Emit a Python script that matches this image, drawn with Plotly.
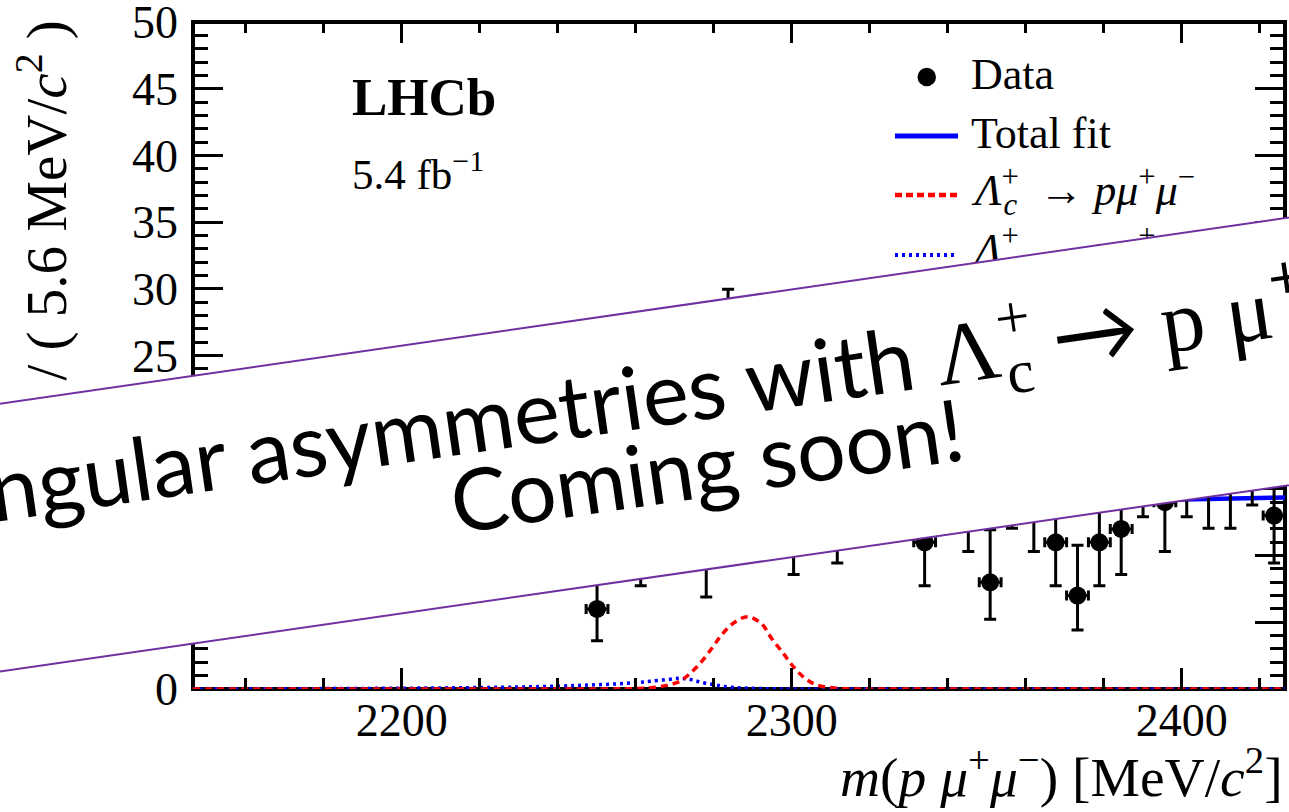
import math
import plotly.graph_objects as go

# ---------------- data ----------------
BIN_LOW = 2146.46          # MeV/c^2, lower edge of the histogram
BIN_WIDTH = 5.6            # MeV/c^2
counts = [14, 12, 16, 13, 15, 11, 14, 17, 13, 12,
          15, 14, 11, 16, 13, 17, 12, 15, 6, 14,
          11, 15, 16, 10, 24, 21, 18, 12, 16, 13,
          17, 16, 18, 11, 17, 14, 8, 16, 14, 11,
          7, 11, 12, 17, 14, 17, 16, 16, 18, 13]

# fit curves, read at a set of masses
fit_mass = [2146.46, 2180.0, 2210.0, 2230.0, 2240.6, 2248.2, 2255.1, 2260.2,
            2263.6, 2267.9, 2271.3, 2273.9, 2276.5, 2279.5, 2282.0, 2285.0,
            2288.7, 2292.3, 2294.8, 2297.8, 2300.4, 2303.4, 2306.4, 2312.0,
            2320.0, 2340.0, 2380.0, 2426.46]
signal_pmumu = [0.0, 0.0, 0.0, 0.0, 0.0, 0.0, 0.01, 0.03,
                0.08, 0.27, 0.58, 1.16, 1.93, 3.05, 4.05, 4.93,
                5.42, 4.87, 3.80, 2.68, 1.67, 0.80, 0.30, 0.05,
                0.0, 0.0, 0.0, 0.0]
misid_ppipi = [0.0, 0.03, 0.08, 0.15, 0.22, 0.30, 0.38, 0.48,
               0.58, 0.70, 0.80, 0.72, 0.52, 0.35, 0.22, 0.12,
               0.06, 0.03, 0.02, 0.01, 0.0, 0.0, 0.0, 0.0,
               0.0, 0.0, 0.0, 0.0]
background = [13.30, 13.42, 13.52, 13.58, 13.62, 13.64, 13.66, 13.68,
              13.69, 13.70, 13.71, 13.72, 13.73, 13.74, 13.75, 13.76,
              13.77, 13.78, 13.79, 13.80, 13.81, 13.82, 13.83, 13.85,
              13.88, 13.95, 14.10, 14.36]

x_ticks = [2200, 2300, 2400]
y_ticks = [0, 5, 10, 15, 20, 25, 30, 35, 40, 45, 50]

# ---------------- derived tables ----------------
n_bins = len(counts)
bin_centers = [BIN_LOW + BIN_WIDTH * (i + 0.5) for i in range(n_bins)]
total_fit = [b + s + m for b, s, m in zip(background, signal_pmumu, misid_ppipi)]


def poisson_interval(n, cl=0.682689):
    """Central Poisson confidence interval (as used for RooFit data points)."""
    alpha = (1.0 - cl) / 2.0

    def cdf(k, mu):
        if k < 0:
            return 0.0
        if mu <= 0:
            return 1.0
        return sum(math.exp(-mu + j * math.log(mu) - math.lgamma(j + 1)) for j in range(k + 1))

    def solve(f, lo, hi):
        for _ in range(80):
            mid = 0.5 * (lo + hi)
            if f(mid) > 0:
                lo = mid
            else:
                hi = mid
        return 0.5 * (lo + hi)

    up = solve(lambda mu: cdf(n, mu) - alpha, 0.0, n + 60.0)
    low = 0.0 if n == 0 else solve(lambda mu: cdf(n - 1, mu) - (1 - alpha), 0.0, n + 60.0)
    return low, up


err_lo, err_hi = [], []
for n in counts:
    lo, up = poisson_interval(n)
    err_lo.append(n - lo)
    err_hi.append(up - n)

# ---------------- geometry helpers (layout only) ----------------
W_FIG, H_FIG = 1289, 812
L, R, T, B = 193, 1285, 22, 689
PW, PH = R - L, B - T


def px(x):
    return (x - L) / PW


def py(y):
    return (B - y) / PH


SERIF = "Liberation Serif"
BLUE = "#0000FF"
RED = "#FF0000"
PURPLE = "#7030A0"

fig = go.Figure()

fig.add_trace(go.Scatter(x=fit_mass, y=total_fit, mode="lines", name="Total fit",
                         line=dict(color=BLUE, width=4.5, shape="spline"), hoverinfo="skip"))
fig.add_trace(go.Scatter(x=fit_mass, y=misid_ppipi, mode="lines", name="misID",
                         line=dict(color=BLUE, width=3.5, dash="3px,4px", shape="spline"), hoverinfo="skip"))
fig.add_trace(go.Scatter(x=fit_mass, y=signal_pmumu, mode="lines", name="signal",
                         line=dict(color=RED, width=3.5, dash="7px,5px", shape="spline"), hoverinfo="skip"))
fig.add_trace(go.Scatter(
    x=bin_centers, y=counts, mode="markers", name="Data",
    marker=dict(size=18, color="black"),
    error_y=dict(type="data", symmetric=False, array=err_hi, arrayminus=err_lo,
                 thickness=3, width=6, color="black"),
    error_x=dict(type="constant", value=BIN_WIDTH / 2, thickness=3, width=5, color="black"),
))

tickstyle = dict(ticks="inside", tickwidth=3, tickcolor="black", showgrid=False,
                 zeroline=False, showline=False, mirror="ticks", automargin=False,
                 ticklabelposition="outside", ticklabeloverflow="allow")

fig.update_layout(
    width=W_FIG, height=H_FIG,
    margin=dict(l=L, r=W_FIG - R, t=T, b=H_FIG - B, pad=0, autoexpand=False),
    paper_bgcolor="white", plot_bgcolor="white",
    showlegend=False,
    font=dict(family=SERIF, color="black"),
    xaxis=dict(range=[BIN_LOW, BIN_LOW + n_bins * BIN_WIDTH], tickmode="array",
               tickvals=x_ticks, ticktext=[str(v) for v in x_ticks], ticklen=21,
               tickfont=dict(family=SERIF, size=46, color="black"),
               minor=dict(ticks="inside", dtick=20, tick0=2200, ticklen=11, tickwidth=3,
                          tickcolor="black", showgrid=False),
               **tickstyle),
    yaxis=dict(range=[0, 50.002], tickmode="array", tickvals=y_ticks,
               ticktext=[str(v) for v in y_ticks], ticklen=30, ticklabelstandoff=14,
               tickfont=dict(family=SERIF, size=46, color="black"),
               minor=dict(ticks="inside", dtick=1, tick0=0, ticklen=15, tickwidth=3,
                          tickcolor="black", showgrid=False),
               **tickstyle),
)

shapes = [
    # frame
    dict(type="rect", xref="paper", yref="paper", x0=0, x1=1, y0=0, y1=1,
         line=dict(color="black", width=4), fillcolor="rgba(0,0,0,0)", layer="below"),
    # legend symbols
    dict(type="circle", xref="paper", yref="paper", x0=px(917.5), x1=px(936.0),
         y0=py(86.3), y1=py(67.8), fillcolor="black", line=dict(width=0)),
    dict(type="line", xref="paper", yref="paper", x0=px(895), x1=px(958), y0=py(136), y1=py(136),
         line=dict(color=BLUE, width=5)),
    dict(type="line", xref="paper", yref="paper", x0=px(895), x1=px(958), y0=py(195), y1=py(195),
         line=dict(color=RED, width=4.5, dash="7px,4px")),
    dict(type="line", xref="paper", yref="paper", x0=px(895), x1=px(956), y0=py(255), y1=py(255),
         line=dict(color=BLUE, width=4, dash="3px,4px")),
]
fig.update_layout(shapes=shapes)

ann = []


def text(t, x, y, size, xanchor="left", yanchor="middle", angle=0, family=SERIF, **kw):
    d = dict(text=t, x=px(x), y=py(y), xref="paper", yref="paper", showarrow=False,
             xanchor=xanchor, yanchor=yanchor, textangle=angle,
             font=dict(family=family, size=size, color="black"))
    d.update(kw)
    ann.append(d)


# stacked "+" over subscript "c"
LAMBDA_C = ("<i>Λ</i><sup><span style='letter-spacing:-0.5em'>+</span></sup>"
            "<sub><i>c</i></sub>")

# axis titles
text("Candidates / ( 5.6 MeV/<i>c</i><sup>2</sup> )", 42, 18, 57,
     xanchor="center", yanchor="top", angle=-90)
text("<i>m</i>(<i>p</i> <i>μ</i><sup>+</sup><i>μ</i><sup>−</sup>) [MeV/<i>c</i><sup>2</sup>]",
     1285, 773, 55.5, xanchor="right")
# labels
text("<b>LHCb</b>", 350, 97, 53)
text("5.4 fb<sup>−1</sup>", 350, 171, 43)
# legend entries
text("Data", 969, 74.5, 44)
text("Total fit", 969, 133.5, 44)
text(LAMBDA_C + "  → <i>pμ</i><sup>+</sup><i>μ</i><sup>−</sup>", 969, 191, 44)
text(LAMBDA_C + "  → <i>pπ</i><sup>+</sup><i>π</i><sup>−</sup>", 969, 250, 44)

# banner ("coming soon" overlay)
ANGLE = -8.22
ann.append(dict(text=" ", x=px(700), y=py(436.3), xref="paper", yref="paper", showarrow=False,
                xanchor="center", yanchor="middle", textangle=ANGLE, width=2400, height=263,
                bgcolor="white", bordercolor=PURPLE, borderwidth=2, borderpad=0,
                font=dict(family="Lato", size=10, color="black")))
MATH = "style='font-family:Liberation Serif'"
MATH_SUP = "style='font-family:Liberation Serif;letter-spacing:-0.5em'"
text("Angular asymmetries with <span " + MATH + ">Λ</span><sup><span " + MATH_SUP + ">+</span></sup>"
     "<sub><span " + MATH + ">c</span></sub> → "
     "<span " + MATH + ">p μ</span><sup>+</sup><span " + MATH + ">μ</span><sup>−</sup>",
     659.0, 392.5, 87.5, xanchor="center", angle=ANGLE, family="Lato")
text("Coming soon!", 706.7, 463.7, 86, xanchor="center", angle=ANGLE, family="Lato")

fig.update_layout(annotations=ann)

fig.write_html("out.html")
